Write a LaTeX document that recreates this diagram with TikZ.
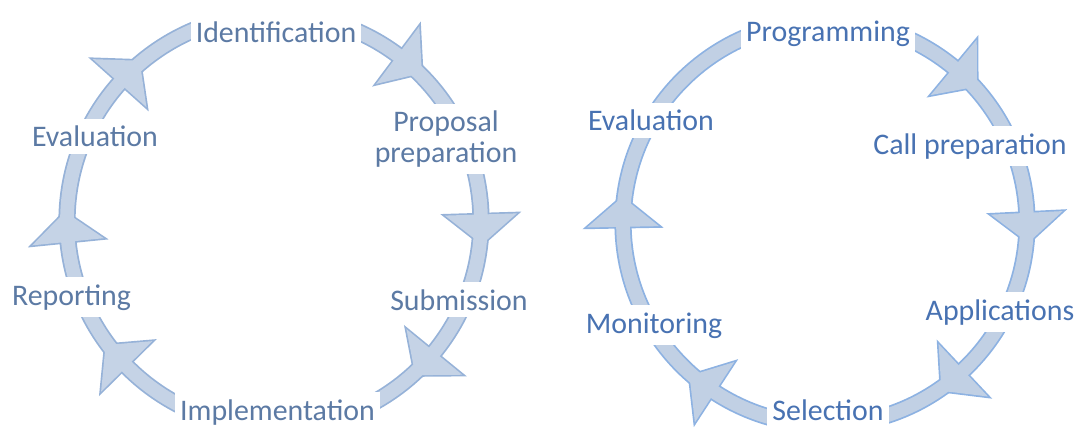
\documentclass[tikz,border=0pt]{standalone}
\usepackage{fontspec}
\setmainfont{Carlito}
\usetikzlibrary{decorations.markings}

\definecolor{leftfill}{RGB}{197,211,230}
\definecolor{leftedge}{RGB}{150,178,216}
\definecolor{lefttext}{RGB}{92,122,164}
\definecolor{rightfill}{RGB}{193,208,228}
\definecolor{rightedge}{RGB}{141,178,226}
\definecolor{righttext}{RGB}{72,114,178}

\begin{document}
\begin{tikzpicture}[
  x=0.02cm, y=-0.02cm,
  lbl/.style={fill=white, text=lbltext, align=center, inner xsep=3pt, inner ysep=4pt,
              font=\fontsize{17}{17.6}\selectfont},
  toplbl/.style={lbl, inner ysep=10pt},
  botlbl/.style={lbl, text depth=0.3em},
  bandout/.style={draw=bandedge, line width=9.8pt},
  bandin/.style={draw=bandfill, line width=7.8pt},
  headout/.style={postaction={decorate, decoration={markings,
      mark=at position #1 with {\filldraw[bandedge, line width=1.9pt, line join=miter]
        (0,36) -- (30,0) -- (0,-36) -- cycle;}}}},
  headin/.style={postaction={decorate, decoration={markings,
      mark=at position #1 with {\fill[bandfill] (0,36) -- (30,0) -- (0,-36) -- cycle;}}}}
]
  \useasboundingbox (0,0) rectangle (1076,429);

  % proposal cycle
  \begin{scope}
    \colorlet{bandfill}{leftfill}
    \colorlet{bandedge}{leftedge}
    \colorlet{lbltext}{lefttext}
    \path[bandout, headout/.list={0.109,0.376,0.484,0.616,0.852,0.995}] (274,221) circle[radius=207];
    \path[bandin, headin/.list={0.109,0.376,0.484,0.616,0.852,0.995}] (274,221) circle[radius=207];

    \node[toplbl, anchor=base] (ident) at (276,43) {Identification};
    \node[lbl] (propprep) at (446,139) {Proposal\\preparation};
    \node[lbl, anchor=base] (subm) at (459,310) {Submission};
    \node[botlbl, anchor=base] (impl) at (277.5,420) {Implementation};
    \node[lbl, anchor=base] (report) at (71.5,305) {Reporting};
    \node[lbl, anchor=base] (evalL) at (95,147) {Evaluation};
  \end{scope}

  % funding cycle
  \begin{scope}
    \colorlet{bandfill}{rightfill}
    \colorlet{bandedge}{rightedge}
    \colorlet{lbltext}{righttext}
    \path[bandout, headout/.list={0.130,0.342,0.497,0.860,0.992}] (825,223) circle[radius=202];
    \path[bandin, headin/.list={0.130,0.342,0.497,0.860,0.992}] (825,223) circle[radius=202];

    \node[toplbl, anchor=base] (prog) at (828,42) {Programming};
    \node[lbl, anchor=base] (callprep) at (970,154) {Call preparation};
    \node[lbl, anchor=base] (applic) at (1000,320) {Applications};
    \node[botlbl, anchor=base] (select) at (828,420) {Selection};
    \node[lbl, anchor=base] (monit) at (654,333) {Monitoring};
    \node[lbl, anchor=base] (evalR) at (651,131) {Evaluation};
  \end{scope}
\end{tikzpicture}
\end{document}
